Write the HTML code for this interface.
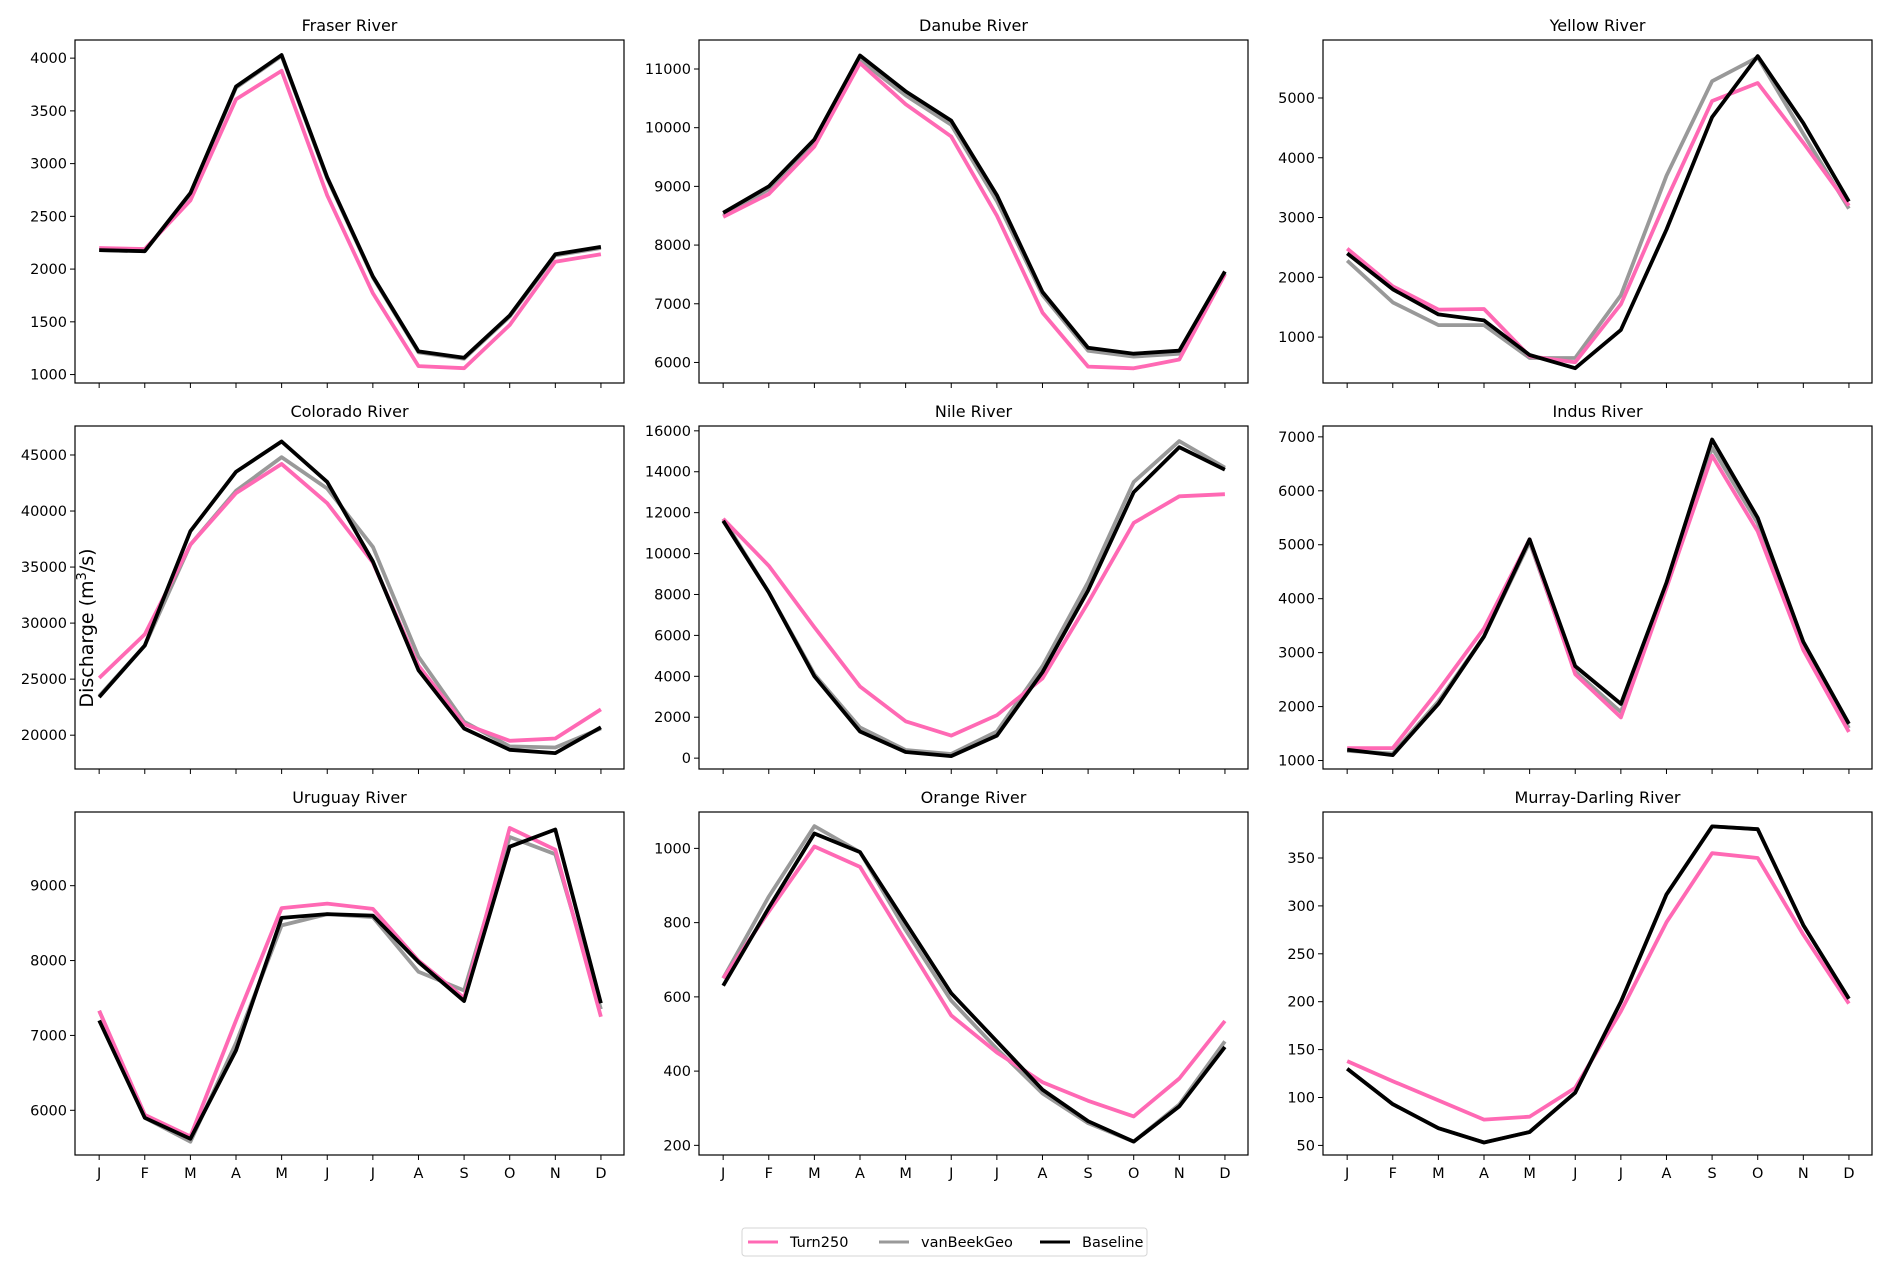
<!DOCTYPE html>
<html><head><meta charset="utf-8"><style>
body{margin:0;background:#fff;}
svg{display:block;font-family:"DejaVu Sans","Liberation Sans",sans-serif;}
</style></head><body>
<svg id="c" width="1892" height="1276" viewBox="0 0 1892 1276"></svg>
<script>
const months = ["J","F","M","A","M","J","J","A","S","O","N","D"];
const riverNames = ["Fraser River","Danube River","Yellow River","Colorado River","Nile River","Indus River","Uruguay River","Orange River","Murray-Darling River"];
const yLimits = [[920,4172],[5650,11494],[232,5970],[16983,47586],[-531,16236],[843,7201],[5403,9984],[174,1098],[40,398]];
const yTicks = [[1000,1500,2000,2500,3000,3500,4000],[6000,7000,8000,9000,10000,11000],[1000,2000,3000,4000,5000],[20000,25000,30000,35000,40000,45000],[0,2000,4000,6000,8000,10000,12000,14000,16000],[1000,2000,3000,4000,5000,6000,7000],[6000,7000,8000,9000],[200,400,600,800,1000],[50,100,150,200,250,300,350]];
const turn250 = [
[2200,2190,2650,3610,3880,2700,1770,1080,1060,1470,2070,2140],
[8480,8870,9680,11100,10400,9850,8500,6850,5930,5900,6050,7500],
[2480,1850,1460,1470,680,580,1550,3300,4950,5250,4250,3200],
[25100,29000,37000,41600,44200,40700,35400,26200,21000,19500,19700,22300],
[11700,9400,6400,3500,1800,1100,2100,3900,7600,11500,12800,12900],
[1230,1230,2300,3450,5100,2600,1800,4200,6650,5250,3050,1530],
[7330,5940,5650,7200,8700,8760,8690,8000,7500,9770,9480,7250],
[650,830,1005,950,750,550,450,370,320,278,380,535],
[138,117,97,77,80,110,190,283,355,350,270,198]];
const vanBeekGeo = [
[2180,2170,2710,3720,4020,2860,1920,1210,1150,1550,2130,2200],
[8500,8950,9720,11150,10550,10050,8750,7150,6200,6100,6150,7520],
[2280,1580,1200,1200,650,650,1700,3700,5280,5680,4400,3150],
[23500,28000,37000,41800,44800,42000,36800,27000,21200,19000,18900,20600],
[11700,8100,4100,1500,400,200,1300,4500,8600,13500,15500,14200],
[1180,1130,2100,3300,5050,2650,1900,4250,6800,5400,3150,1600],
[7330,5900,5580,6900,8470,8620,8580,7850,7600,9650,9420,7350],
[650,870,1060,990,780,590,460,340,260,210,310,480],
[130,93,68,53,64,105,200,312,383,380,280,203]];
const baseline = [
[2180,2170,2720,3730,4030,2870,1930,1220,1160,1560,2140,2210],
[8550,9000,9800,11230,10620,10120,8850,7200,6250,6150,6200,7550],
[2400,1800,1380,1280,700,480,1120,2800,4680,5700,4580,3270],
[23400,28000,38200,43500,46200,42600,35500,25800,20600,18700,18400,20700],
[11600,8100,4000,1300,300,100,1100,4200,8200,13000,15200,14100],
[1200,1100,2050,3300,5100,2750,2050,4300,6950,5500,3200,1680],
[7200,5900,5620,6800,8570,8620,8600,7980,7460,9520,9750,7430],
[630,840,1040,990,800,610,480,350,265,210,305,465],
[130,93,68,53,64,105,200,312,383,380,280,203]];

const NS="http://www.w3.org/2000/svg";
const svg=document.getElementById('c');
function mk(tag,attrs,parent){const e=document.createElementNS(NS,tag);for(const k in attrs)e.setAttribute(k,attrs[k]);(parent||svg).appendChild(e);return e;}
const colX=[75,699,1323], rowY=[40,426,812], W=549, H=343;
const series=[{d:vanBeekGeo,c:"#999999",n:"vanbeekgeo-line"},{d:turn250,c:"#ff69b4",n:"turn250-line"},{d:baseline,c:"#000000",n:"baseline-line"}];
for(let p=0;p<9;p++){
  const x0=colX[p%3], y0=rowY[Math.floor(p/3)];
  const g=mk('g',{});
  
  
  const [lo,hi]=yLimits[p];
  const xs=i=>x0+W*(0.044+0.914*i/11);
  const ys=v=>y0+H-(v-lo)/(hi-lo)*H;
  const t=mk('text',{x:x0+W/2,y:y0-9,'text-anchor':'middle','font-size':16,fill:'#000'},g);
  t.textContent=riverNames[p];
  
  yTicks[p].forEach(v=>{
    const y=ys(v);
    mk('line',{x1:x0-5,x2:x0,y1:y,y2:y,stroke:'#000','stroke-width':1},g);
    const l=mk('text',{x:x0-8,y:y+5,'text-anchor':'end','font-size':14.5,fill:'#000'},g);
    l.textContent=v;
    
  });
  months.forEach((m,i)=>{
    const x=xs(i);
    mk('line',{x1:x,x2:x,y1:y0+H,y2:y0+H+5,stroke:'#000','stroke-width':1},g);
    if(p>=6){const l=mk('text',{x:x,y:y0+H+23,'text-anchor':'middle','font-size':14.5,fill:'#000'},g);l.textContent=m;
      }
  });
  series.forEach(s=>{
    const pts=s.d[p].map((v,i)=>xs(i).toFixed(1)+','+ys(v).toFixed(1)).join(' ');
    const pl=mk('polyline',{points:pts,fill:'none',stroke:s.c,'stroke-width':3.8,'stroke-linejoin':'round'},g);
    
  });
  const fr=mk('rect',{x:x0,y:y0,width:W,height:H,fill:'none',stroke:'#000','stroke-width':1.2},g);
  
}
const yl=mk('text',{x:0,y:0,'text-anchor':'middle','font-size':19,fill:'#000',transform:'translate(93,628) rotate(-90)'});
yl.innerHTML='Discharge (m<tspan dy="-7" font-size="13">3</tspan><tspan dy="7">/s)</tspan>';

const lg=mk('g',{});

mk('rect',{x:742,y:1228,width:405,height:28,rx:3,fill:'#fff',stroke:'#d6d6d6','stroke-width':1},lg);
[["Turn250","#ff69b4",748],["vanBeekGeo","#999999",879],["Baseline","#000000",1040]].forEach(([n,c,x])=>{
  const e=mk('g',{},lg);
  
  mk('line',{x1:x,x2:x+30,y1:1242,y2:1242,stroke:c,'stroke-width':3},e);
  const t=mk('text',{x:x+42,y:1247,'font-size':14.5,fill:'#000'},e);t.textContent=n;
});
</script>
</body></html>
